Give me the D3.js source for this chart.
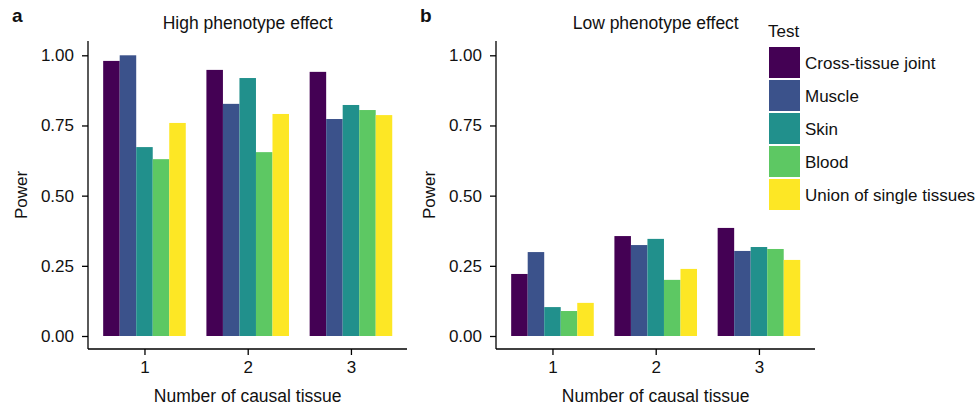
<!DOCTYPE html>
<html>
<head>
<meta charset="utf-8">
<script src="https://cdn.jsdelivr.net/npm/d3@7"></script>
<style>
  body { margin: 0; background: #fff; }
  text { font-family: "Liberation Sans", Arial, sans-serif; fill: #111; }
</style>
</head>
<body>
<script>
// data
var causal = [1, 2, 3];
var tests = ["Cross-tissue joint", "Muscle", "Skin", "Blood", "Union of single tissues"];
var colors = ["#440154", "#3B528B", "#21908C", "#5DC863", "#FDE725"];

// power per test, one value per number of causal tissues
var highEffect = [
    [0.980, 0.948, 0.941],
    [1.000, 0.827, 0.773],
    [0.673, 0.919, 0.823],
    [0.630, 0.655, 0.805],
    [0.759, 0.791, 0.787]
];
var lowEffect = [
    [0.221, 0.356, 0.385],
    [0.299, 0.324, 0.303],
    [0.103, 0.346, 0.317],
    [0.089, 0.200, 0.310],
    [0.118, 0.239, 0.271]
];
var yTicks = [0, 0.25, 0.5, 0.75, 1];

var width = 978, height = 411;

var svg = d3.select("body")
        .append("svg")
        .attr("width", width)
        .attr("height", height);

var y = d3.scaleLinear()
        .domain([0, 1])
        .range([336, 55.3]);

var inner = d3.scaleBand()
        .domain(d3.range(tests.length))
        .range([-0.4, 0.4]);

function panel(left, data, title, letter) {
    var x = d3.scaleLinear()
            .domain([0.453, 3.543])
            .range([left, left + 319]);

    var g = svg.append("g");

    // bars
    data.forEach(function(series, s) {
        g.selectAll(".bar" + s)
            .data(series)
            .enter()
            .append("rect")
            .attr("x", function(d, i) { return x(causal[i] + inner(s)); })
            .attr("width", x(inner.bandwidth()) - x(0))
            .attr("y", function(d) { return y(d); })
            .attr("height", function(d) { return y(0) - y(d); })
            .attr("fill", colors[s]);
    });

    // y axis
    var ya = g.append("g")
            .attr("transform", "translate(" + left + ",0)")
            .call(d3.axisLeft(y).tickValues(yTicks).tickFormat(d3.format(".2f")).tickSize(6).tickPadding(8));
    ya.select(".domain").attr("d", "M0,41V349");

    // x axis
    var xa = g.append("g")
            .attr("transform", "translate(0,349)")
            .call(d3.axisBottom(x).tickValues(causal).tickFormat(d3.format("d")).tickSize(6).tickPadding(6));
    xa.select(".domain").attr("d", "M" + left + ",0H" + (left + 319));

    g.selectAll(".domain").attr("stroke", "#000").attr("stroke-width", 1.3);
    g.selectAll(".tick line").attr("stroke", "#000").attr("stroke-width", 1.3);
    g.selectAll(".tick text").style("font-size", "17px").attr("fill", "#111");

    var mid = (x(1) + x(3)) / 2;

    g.append("text")
        .attr("x", mid)
        .attr("y", 29)
        .attr("text-anchor", "middle")
        .style("font-size", "17.5px")
        .text(title);

    g.append("text")
        .attr("x", mid)
        .attr("y", 402)
        .attr("text-anchor", "middle")
        .style("font-size", "17.5px")
        .text("Number of causal tissue");

    g.append("text")
        .attr("transform", "translate(" + (left - 61) + ",195) rotate(-90)")
        .attr("text-anchor", "middle")
        .style("font-size", "17px")
        .text("Power");

    g.append("text")
        .attr("x", left - 76)
        .attr("y", 22)
        .style("font-size", "19px")
        .style("font-weight", "bold")
        .text(letter);
}

panel(88, highEffect, "High phenotype effect", "a");
panel(496, lowEffect, "Low phenotype effect", "b");

// legend
var legend = svg.append("g").attr("transform", "translate(768,0)");

legend.append("text")
    .attr("x", 0)
    .attr("y", 37)
    .style("font-size", "17px")
    .text("Test");

var items = legend.selectAll(".item")
        .data(tests)
        .enter()
        .append("g")
        .attr("transform", function(d, i) { return "translate(0," + (47 + i * 33) + ")"; });

items.append("rect")
    .attr("x", 1)
    .attr("width", 31)
    .attr("height", 31)
    .attr("fill", function(d, i) { return colors[i]; });

items.append("text")
    .attr("x", 37)
    .attr("y", 22)
    .style("font-size", "17px")
    .text(function(d) { return d; });
</script>
</body>
</html>
